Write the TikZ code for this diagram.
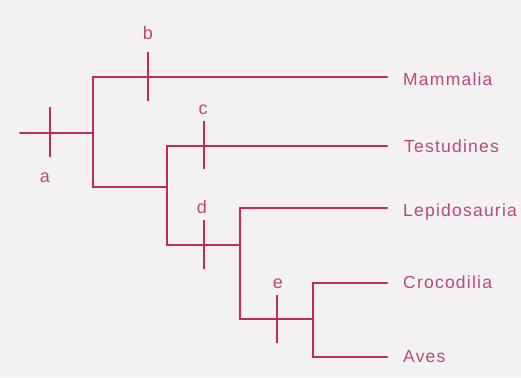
\documentclass[tikz,border=0pt]{standalone}
\usepackage{fontspec}
\setmainfont{Liberation Sans}[LetterSpace=7]
\definecolor{linecol}{HTML}{C42A58}
\definecolor{txtcol}{HTML}{B84A78}
\definecolor{bgcol}{HTML}{F3F1F2}
\begin{document}
\begin{tikzpicture}[x=1pt,y=-1pt,
  br/.style={draw=linecol,line width=2pt,line cap=round},
  tickline/.style={draw=linecol,line width=2pt},
  taxon/.style={anchor=base west,inner sep=0pt,text=txtcol,font=\fontsize{17.5}{20}\selectfont},
  letterlab/.style={anchor=base,inner sep=0pt,text=txtcol,font=\fontsize{18}{20}\selectfont}]
\fill[bgcol] (0,0) rectangle (521,377);
\useasboundingbox (0,0) rectangle (521,377);
% coordinates
\coordinate (r0) at (20,133);
\coordinate (n1) at (93,133);
\coordinate (n1t) at (93,77);
\coordinate (n1b) at (93,187);
\coordinate (n2) at (167,187);
\coordinate (n2t) at (167,146);
\coordinate (n2b) at (167,245);
\coordinate (n3) at (240,245);
\coordinate (n3t) at (240,208);
\coordinate (n3b) at (240,319);
\coordinate (n4) at (313,319);
\coordinate (n4t) at (313,283);
\coordinate (n4b) at (313,357);
\coordinate (eM) at (387,77);
\coordinate (eT) at (387,146);
\coordinate (eL) at (387,208);
\coordinate (eC) at (387,283);
\coordinate (eA) at (387,357);
% tree
\draw[br] (r0) -- (n1);
\draw[br] (eM) -- (n1t) -- (n1b) -- (n2);
\draw[br] (eT) -- (n2t) -- (n2b) -- (n3);
\draw[br] (eL) -- (n3t) -- (n3b) -- (n4);
\draw[br] (eC) -- (n4t) -- (n4b) -- (eA);
% ticks
\coordinate (ta1) at (50,107); \coordinate (ta2) at (50,157);
\coordinate (tb1) at (148,52); \coordinate (tb2) at (148,101);
\coordinate (tc1) at (204,121); \coordinate (tc2) at (204,169);
\coordinate (td1) at (204,220); \coordinate (td2) at (204,269);
\coordinate (te1) at (277,295); \coordinate (te2) at (277,343);
\draw[tickline] (ta1) -- (ta2);
\draw[tickline] (tb1) -- (tb2);
\draw[tickline] (tc1) -- (tc2);
\draw[tickline] (td1) -- (td2);
\draw[tickline] (te1) -- (te2);
% labels
\node[letterlab] (la) at (45,182) {a};
\node[letterlab] (lb) at (148,40) {b};
\node[letterlab] (lc) at (203,114) {c};
\node[letterlab] (ld) at (202,213) {d};
\node[letterlab] (le) at (278,288) {e};
\node[taxon] (tM) at (403,86) {Mammalia};
\node[taxon] (tT) at (404,152) {Testudines};
\node[taxon] (tL) at (403,216) {Lepidosauria};
\node[taxon] (tC) at (403,288) {Crocodilia};
\node[taxon] (tA) at (403,362) {Aves};
\end{tikzpicture}
\end{document}
